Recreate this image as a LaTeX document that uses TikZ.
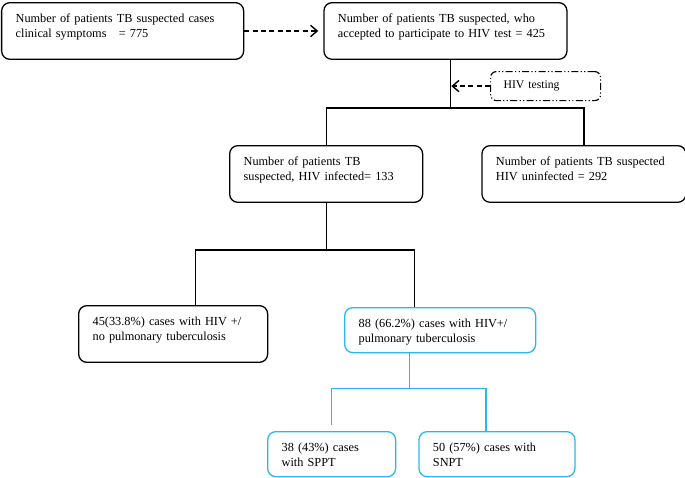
\documentclass[tikz,border=0pt]{standalone}
\usepackage{fontspec}
\setmainfont{Liberation Serif}
\usetikzlibrary{arrows.meta, positioning, calc}
\usepackage{xcolor}
\definecolor{SkyLine}{HTML}{2EB5EA}
\newcommand{\twolines}[2]{\mbox{#1}\\\mbox{#2}}

\begin{document}
\begin{tikzpicture}[
    box/.style={
        draw, line width=1.1pt, rounded corners=7pt, anchor=north west,
        align=left, inner xsep=0.42cm, inner ysep=0.1cm,
        text height=0.5cm, text depth=1.0cm,
        font=\fontsize{10.5}{12.8}\selectfont
    },
    bluebox/.style={box, draw=SkyLine, text depth=0.65cm},
    testbox/.style={
        draw, line width=1pt, rounded corners=5pt, anchor=north west,
        dash pattern=on 6pt off 2pt on 1pt off 2pt on 1pt off 2pt,
        align=left, text width=2.52cm, inner xsep=0.39cm,
        minimum height=0.87cm, font=\fontsize{10}{12}\selectfont
    },
    link/.style={line width=1pt},
    bluelink/.style={link, draw=SkyLine},
    dasharr/.style={-{Straight Barb[length=2mm, width=3.4mm]}, line width=1.2pt,
        dash pattern=on 4.3pt off 2.8pt}
]
\useasboundingbox (-0.03,0.06) rectangle (20.52,-14.25);

% =============================================
% TOP ROW: suspected cases -> HIV test
% =============================================
\node[box, text width=6.42cm] (suspected) at (0,0)
    {\twolines{Number of patients TB suspected cases}{clinical symptoms~~ = 775}};
\node[box, text width=6.45cm, right=2.37cm of suspected] (accepted)
    {\twolines{Number of patients TB suspected, who}{accepted to participate to HIV test = 425}};

\draw[dasharr, shorten >=0.15cm] (suspected.east) -- (accepted.west);

% HIV testing, pointing at the split
\node[testbox] (testing) at (14.67,-2.07) {HIV testing};
\coordinate (fork1) at ([xshift=0.14cm, yshift=-1.44cm]accepted.south);

\draw[link] (accepted.south -| fork1) -- (fork1);
\draw[dasharr, shorten >=1pt] (testing.west) -- (testing.west -| fork1);

% =============================================
% MIDDLE ROW: infected / uninfected
% =============================================
\node[box, text width=4.95cm] (infected) at (6.84,-4.29)
    {\twolines{Number of patients TB}{suspected, HIV infected= 133}};
\node[box, text width=5.28cm, right=1.74cm of infected] (uninfected)
    {\twolines{Number of patients TB suspected}{HIV uninfected = 292}};

\draw[link] (infected.north) |- (fork1) -| (uninfected.north);

% =============================================
% THIRD ROW: no pulmonary TB / pulmonary TB
% =============================================
\node[box, text width=4.83cm] (nopulm) at (2.31,-9.09)
    {\twolines{45(33.8\%) cases with HIV +/}{no pulmonary tuberculosis}};
\node[bluebox, text width=4.89cm] (pulm) at (10.29,-9.15)
    {\twolines{88 (66.2\%) cases with HIV+/}{pulmonary tuberculosis}};

\coordinate (fork2) at ([yshift=-1.41cm]infected.south);
\draw[link] (infected.south) -- (fork2);
\draw[link] ([xshift=0.68cm]nopulm.north) |- (fork2) -| ([xshift=-0.77cm]pulm.north);

% =============================================
% BOTTOM ROW: SPPT / SNPT (blue)
% =============================================
\node[bluebox, text width=3.0cm] (sppt) at (7.98,-12.87)
    {\twolines{38 (43\%) cases}{with SPPT}};
\node[bluebox, text width=3.84cm, right=0.66cm of sppt] (snpt)
    {\twolines{50 (57\%) cases with}{SNPT}};

\coordinate (fork3) at ([xshift=-0.92cm, yshift=-1.05cm]pulm.south);
\draw[bluelink] (fork3 |- pulm.south) -- (fork3);
\draw[bluelink, shorten <=0.18cm] (sppt.north) |- (fork3) -| ([xshift=-0.33cm]snpt.north);

\end{tikzpicture}
\end{document}
